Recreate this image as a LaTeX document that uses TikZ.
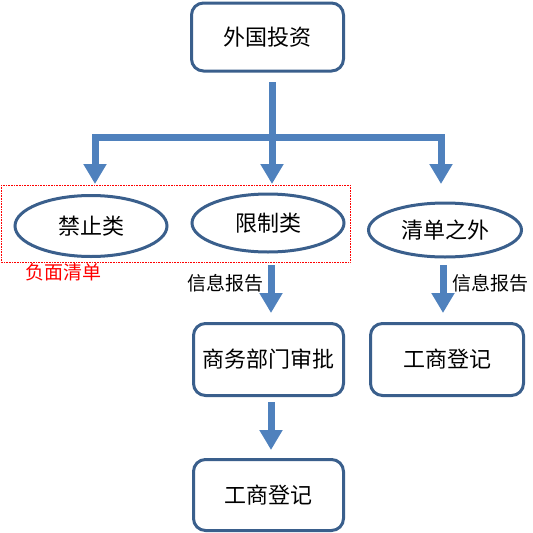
\documentclass[tikz,border=0pt]{standalone}
\usepackage{fontspec}
\newfontfamily\cjk{Noto Sans CJK SC}
\usetikzlibrary{arrows.meta,shapes.geometric}
\definecolor{arrowblue}{HTML}{4F81BD}
\definecolor{edgeblue}{HTML}{3A5F8C}
\begin{document}
\begin{tikzpicture}[x=1pt,y=-1pt,
  box/.style={draw=edgeblue,line width=3pt,rounded corners=12pt,fill=white,
    inner sep=0pt,font=\cjk\fontsize{22pt}{26pt}\selectfont},
  oval/.style={ellipse,draw=edgeblue,line width=3pt,fill=white,inner sep=0pt,
    font=\cjk\fontsize{22pt}{26pt}\selectfont},
  fatline/.style={draw=arrowblue,line width=7pt},
  fatarrow/.style={draw=arrowblue,line width=7pt,
    -{Triangle[width=22pt,length=20pt]}},
  lab/.style={font=\cjk\fontsize{19pt}{22pt}\selectfont,inner sep=0pt,anchor=west}]
\useasboundingbox (0,0) rectangle (533,533);
% nodes
\node[box,minimum width=152pt,minimum height=68pt] (top) at (267.5,37) {外国投资};
\node[oval,minimum width=152pt,minimum height=61pt] (jin) at (91,226) {禁止类};
\node[oval,minimum width=152pt,minimum height=58pt] (xian) at (268,223) {限制类};
\node[oval,minimum width=153pt,minimum height=54pt] (qd) at (445,230) {清单之外};
\node[box,minimum width=150pt,minimum height=72pt] (sw) at (268.5,359.5) {商务部门审批};
\node[box,minimum width=153pt,minimum height=72pt] (gs1) at (447,359.5) {工商登记};
\node[box,minimum width=150pt,minimum height=71pt] (gs2) at (268.5,495) {工商登记};
% negative list frame
\draw[red,densely dotted,line width=0.6pt] (1,185) rectangle (350,262);
\node[lab,text=red] (neg) at (25,272) {负面清单};
% tree connectors
\coordinate (stem) at (272,82);
\coordinate (j) at (272,137.5);
\coordinate (b1) at (95,137.5);
\coordinate (b3) at (441,137.5);
\coordinate (t1) at (95,184);
\coordinate (t2) at (272,184);
\coordinate (t3) at (441,184);
\draw[fatline] (stem) -- (j);
\draw[fatline,line cap=rect] (b1) -- (b3);
\draw[fatarrow] (b1) -- (t1);
\draw[fatarrow] (j) -- (t2);
\draw[fatarrow] (b3) -- (t3);
% lower connectors
\coordinate (s1) at (271,265);
\coordinate (e1) at (271,313);
\coordinate (s2) at (443,265);
\coordinate (e2) at (443,313);
\coordinate (s3) at (271,402);
\coordinate (e3) at (271,450);
\draw[fatarrow] (s1) -- (e1);
\draw[fatarrow] (s2) -- (e2);
\draw[fatarrow] (s3) -- (e3);
\node[lab] (info1) at (187,283) {信息报告};
\node[lab] (info2) at (452,283) {信息报告};
\end{tikzpicture}
\end{document}
